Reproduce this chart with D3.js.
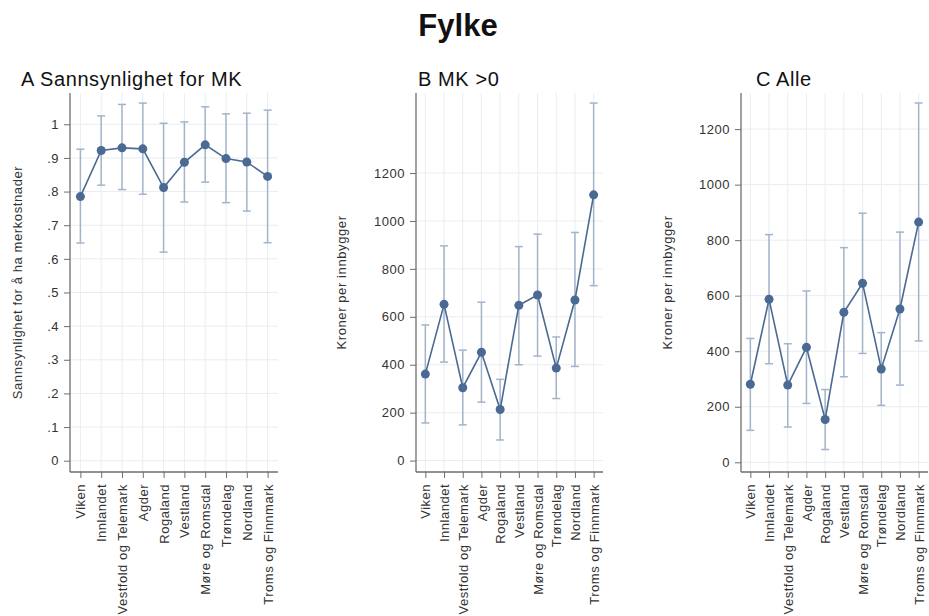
<!DOCTYPE html>
<html>
<head>
<meta charset="utf-8">
<script src="https://cdn.jsdelivr.net/npm/d3@7"></script>
<style>
  html, body { margin: 0; padding: 0; background: #fff; }
  svg { display: block; font-family: "Liberation Sans", Arial, sans-serif; }
</style>
</head>
<body>
<svg id="chart" width="929" height="616"></svg>
<script>
// Fylker (counties)
const categories = ["Viken", "Innlandet", "Vestfold og Telemark", "Agder", "Rogaland",
  "Vestland", "Møre og Romsdal", "Trøndelag", "Nordland", "Troms og Finnmark"];

// A: probability of having extra costs, with 95% CI
const probEst = [0.785, 0.922, 0.930, 0.927, 0.812, 0.887, 0.939, 0.898, 0.888, 0.845];
const probLo  = [0.647, 0.819, 0.806, 0.792, 0.620, 0.769, 0.828, 0.767, 0.742, 0.648];
const probHi  = [0.926, 1.025, 1.059, 1.063, 1.003, 1.007, 1.052, 1.031, 1.033, 1.042];

// B: kroner per inhabitant, municipalities with extra costs > 0
const posEst = [361, 652, 304, 452, 213, 648, 691, 386, 670, 1109];
const posLo  = [157, 411, 149, 244,  86, 400, 436, 259, 393,  730];
const posHi  = [566, 896, 461, 661, 339, 893, 945, 516, 952, 1492];

// C: kroner per inhabitant, all municipalities
const allEst = [281, 587, 278, 414, 154, 540, 645, 336, 552,  865];
const allLo  = [115, 355, 127, 212,  46, 308, 392, 205, 278,  437];
const allHi  = [446, 820, 427, 617, 262, 773, 897, 467, 829, 1294];

// Axis ticks
const probTicks = [0, 0.1, 0.2, 0.3, 0.4, 0.5, 0.6, 0.7, 0.8, 0.9, 1];
const probTickLabels = ["0", ".1", ".2", ".3", ".4", ".5", ".6", ".7", ".8", ".9", "1"];
const kronerTicks = [0, 200, 400, 600, 800, 1000, 1200];
const kronerTickLabels = ["0", "200", "400", "600", "800", "1000", "1200"];

const svg = d3.select("#chart");

const COLOR_MARK = "#4a6a93";
const COLOR_CI = "#a3b4ca";
const COLOR_GRID = "#e9ecf1";
const COLOR_AXIS = "#6e6e6e";
const COLOR_TEXT = "#333333";

// Overall title
svg.append("text")
  .attr("x", 458).attr("y", 36)
  .attr("text-anchor", "middle")
  .attr("font-size", 31).attr("font-weight", "bold")
  .attr("fill", "#111")
  .text("Fylke");

const panels = [
  { title: "A Sannsynlighet for MK", titleX: 21,
    ytitle: "Sannsynlighet for å ha merkostnader", ytitleX: 17,
    x0: 70, x1: 278, yDomain: [-0.0336, 1.093],
    est: probEst, lo: probLo, hi: probHi,
    ticks: probTicks, tickLabels: probTickLabels },
  { title: "B MK >0", titleX: 418,
    ytitle: "Kroner per innbygger", ytitleX: 341,
    x0: 416, x1: 603, yDomain: [-47.6, 1534],
    est: posEst, lo: posLo, hi: posHi,
    ticks: kronerTicks, tickLabels: kronerTickLabels },
  { title: "C Alle", titleX: 756,
    ytitle: "Kroner per innbygger", ytitleX: 667,
    x0: 741, x1: 928, yDomain: [-35, 1330],
    est: allEst, lo: allLo, hi: allHi,
    ticks: kronerTicks, tickLabels: kronerTickLabels }
];

const plotTop = 93, plotBottom = 472;

panels.forEach(p => {
  const g = svg.append("g");
  const xs = d3.range(1, categories.length + 1);
  const x = d3.scaleLinear().domain([0.5, categories.length + 0.5]).range([p.x0, p.x1]);
  const y = d3.scaleLinear().domain(p.yDomain).range([plotBottom, plotTop]);

  // Gridlines
  g.append("g").selectAll("line.h").data(p.ticks).join("line")
    .attr("x1", p.x0).attr("x2", p.x1)
    .attr("y1", d => y(d)).attr("y2", d => y(d))
    .attr("stroke", COLOR_GRID).attr("stroke-width", 1);
  g.append("g").selectAll("line.v").data(xs).join("line")
    .attr("x1", d => x(d)).attr("x2", d => x(d))
    .attr("y1", plotTop).attr("y2", plotBottom)
    .attr("stroke", COLOR_GRID).attr("stroke-width", 1);

  // Confidence intervals with caps
  const ci = g.append("g").attr("stroke", COLOR_CI).attr("stroke-width", 1.5).attr("fill", "none");
  xs.forEach((d, i) => {
    const cx = x(d);
    ci.append("line").attr("x1", cx).attr("x2", cx).attr("y1", y(p.lo[i])).attr("y2", y(p.hi[i]));
    ci.append("line").attr("x1", cx - 4).attr("x2", cx + 4).attr("y1", y(p.lo[i])).attr("y2", y(p.lo[i]));
    ci.append("line").attr("x1", cx - 4).attr("x2", cx + 4).attr("y1", y(p.hi[i])).attr("y2", y(p.hi[i]));
  });

  // Connected estimates
  const line = d3.line().x((d, i) => x(i + 1)).y(d => y(d));
  g.append("path").datum(p.est)
    .attr("d", line)
    .attr("fill", "none").attr("stroke", COLOR_MARK).attr("stroke-width", 1.6);
  g.append("g").selectAll("circle").data(p.est).join("circle")
    .attr("cx", (d, i) => x(i + 1)).attr("cy", d => y(d))
    .attr("r", 4.5).attr("fill", COLOR_MARK);

  // Y axis
  const yAxis = d3.axisLeft(y)
    .tickValues(p.ticks)
    .tickFormat((d, i) => p.tickLabels[i])
    .tickSize(6).tickSizeOuter(0).tickPadding(5);
  const ya = g.append("g").attr("transform", `translate(${p.x0},0)`).call(yAxis);
  ya.select(".domain").attr("stroke", COLOR_AXIS).attr("stroke-width", 1.3)
    .attr("d", `M0,${plotTop}V${plotBottom}`);
  ya.selectAll(".tick line").attr("stroke", COLOR_AXIS);
  ya.selectAll(".tick text").attr("fill", COLOR_TEXT)
    .attr("font-size", 13).attr("letter-spacing", 0.5)
    .attr("font-family", "Liberation Sans, Arial, sans-serif");

  // X axis
  const xAxis = d3.axisBottom(x)
    .tickValues(xs)
    .tickFormat(d => categories[d - 1])
    .tickSize(6).tickSizeOuter(0);
  const xa = g.append("g").attr("transform", `translate(0,${plotBottom})`).call(xAxis);
  xa.select(".domain").attr("stroke", COLOR_AXIS).attr("stroke-width", 1.3)
    .attr("d", `M${p.x0},0H${p.x1}`);
  xa.selectAll(".tick line").attr("stroke", COLOR_AXIS);
  xa.selectAll(".tick text")
    .attr("fill", COLOR_TEXT)
    .attr("font-size", 13).attr("letter-spacing", 0.5)
    .attr("font-family", "Liberation Sans, Arial, sans-serif")
    .attr("text-anchor", "end")
    .attr("transform", "rotate(-90)")
    .attr("x", -12).attr("y", 0).attr("dy", "0.35em");

  // Panel title
  g.append("text")
    .attr("x", p.titleX).attr("y", 86)
    .attr("font-size", 20).attr("letter-spacing", 0.6)
    .attr("fill", "#111")
    .text(p.title);

  // Y axis title
  g.append("text")
    .attr("transform", `translate(${p.ytitleX},${(plotTop + plotBottom) / 2}) rotate(-90)`)
    .attr("text-anchor", "middle").attr("dy", "0.35em")
    .attr("font-size", 13).attr("letter-spacing", 0.6)
    .attr("fill", COLOR_TEXT)
    .text(p.ytitle);
});
</script>
</body>
</html>
